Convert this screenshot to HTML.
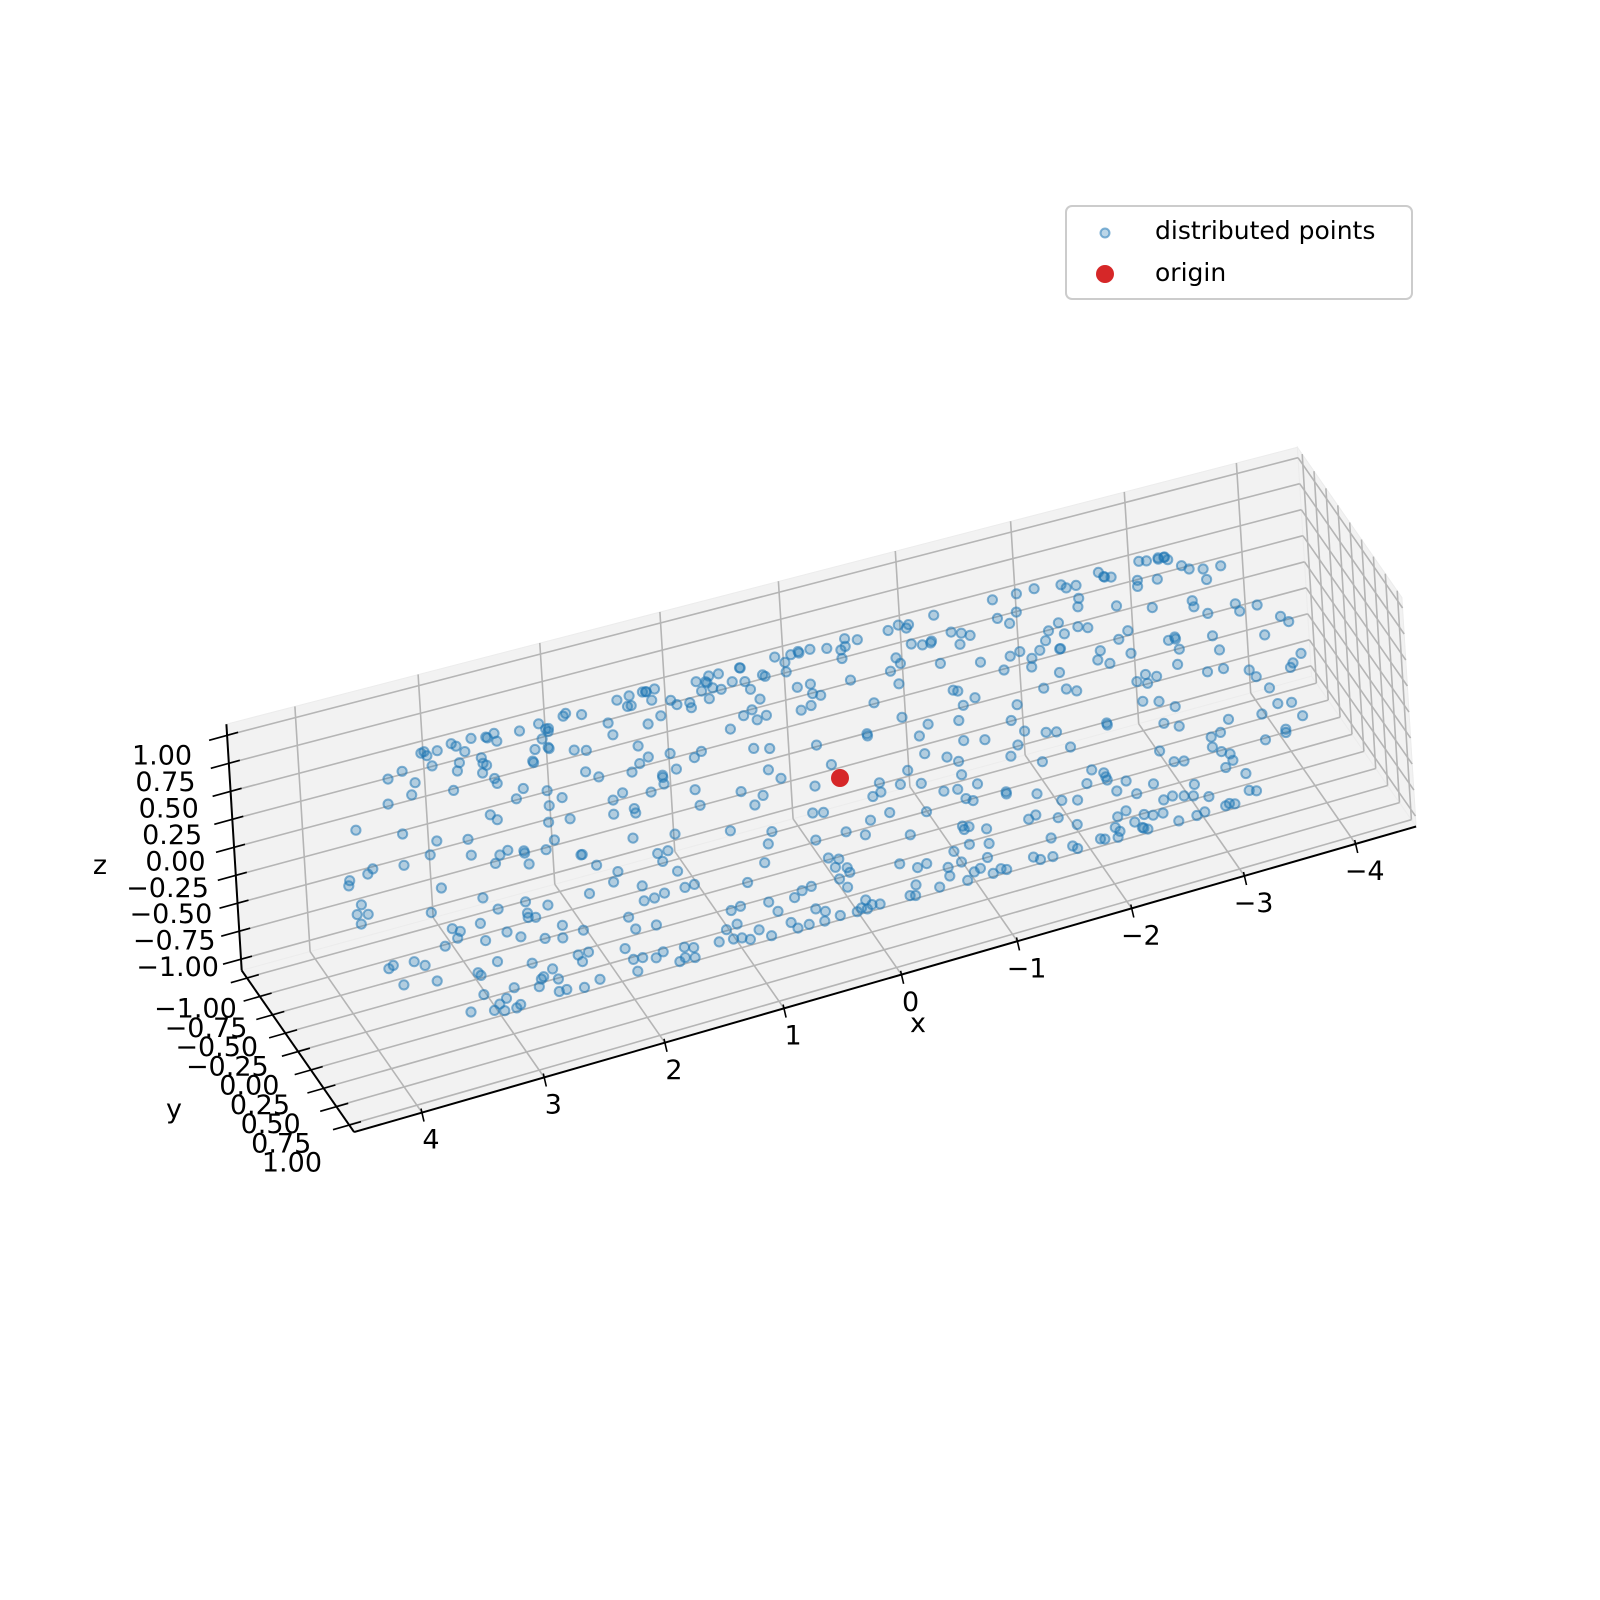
<!DOCTYPE html>
<html><head><meta charset="utf-8">
<style>
html,body{margin:0;padding:0;background:#fff;}
svg{display:block;font-family:"DejaVu Sans","Liberation Sans",sans-serif;}
</style></head>
<body>
<svg id="chart" width="1600" height="1600" viewBox="0 0 1600 1600" xmlns="http://www.w3.org/2000/svg">
<rect width="1600" height="1600" fill="#fff"/>
<g id="panes"></g>
<g id="grid"></g>
<g id="axes"></g>
<g id="pts"></g>
<g id="orig"></g>
<text x="918" y="1032" font-size="27" text-anchor="middle">x</text>
<text x="174" y="1118" font-size="27" text-anchor="middle">y</text>
<text x="100" y="874" font-size="27" text-anchor="middle">z</text>
<g>
  <rect x="1066" y="206" width="346" height="93" rx="6" fill="#fff" fill-opacity="0.8" stroke="#cccccc" stroke-width="2"/>
  <circle cx="1105" cy="233" r="4.5" fill="rgba(31,119,180,0.3)" stroke="rgba(31,119,180,0.55)" stroke-width="2"/>
  <text x="1155" y="239" font-size="25">distributed points</text>
  <circle cx="1105" cy="274" r="9" fill="#d62728"/>
  <text x="1155" y="281" font-size="25">origin</text>
</g>
</svg>
<script>
// ---- data ----
const xTicks = [-4,-3,-2,-1,0,1,2,3,4];
const yTicks = [-1,-0.75,-0.5,-0.25,0,0.25,0.5,0.75,1];
const zTicks = [-1,-0.75,-0.5,-0.25,0,0.25,0.5,0.75,1];
const yTickLabels = ["\u22121.00","\u22120.75","\u22120.50","\u22120.25","0.00","0.25","0.50","0.75","1.00"];
const zTickLabels = ["\u22121.00","\u22120.75","\u22120.50","\u22120.25","0.00","0.25","0.50","0.75","1.00"];
const xTickLabels = ["\u22124","\u22123","\u22122","\u22121","0","1","2","3","4"];
const capsuleRadius = 1;
const capCenter = 3.0;
// body x positions, given in units where the cylinder half-length is 3.5
const bodyXUnit = 3.5;
const bodyX = [-3.4,2.1,0.7,-1.8,3.2,-0.3,1.5,-2.6,2.9,-1.1,0.2,3.4,-3.0,1.9,-0.8,2.5,-2.2,0.9,-3.3,1.2,
-0.5,2.8,-1.5,3.1,-2.9,0.4,1.7,-0.1,-2.4,2.3,-3.2,0.6,3.3,-1.3,1.0,-2.0,2.6,-0.7,0.1,-3.5,
3.0,-1.9,1.4,-2.7,2.0,-0.4,0.8,-3.1,2.7,-1.0,3.5,-2.3,1.6,-0.9,0.3,-1.6,2.4,-3.4,1.1,-2.5,
0.5,3.2,-0.2,-2.8,1.8,-1.4,2.2,-3.0,0.0,3.4,-1.2,1.3,-2.1,2.9,-0.6,-3.3,1.5,0.9,-1.7,3.0,
-2.6,2.1,-0.3,1.0,-3.2,2.5,-1.0,0.6,3.3,-2.2,1.9,-0.8,-1.5,2.8,-3.5,0.2,1.6,-2.9,3.1,-0.5,
2.3,-1.8,0.4,-2.4,3.5,-1.1,1.2,-3.1,2.6,-0.1,0.7,-2.0,3.2,-1.3,1.7,-2.7,0.0,2.0,-3.4,1.4,
-0.7,2.9,-1.6,0.3,-2.3,3.4,-1.9,1.1,-3.0,2.4,-0.4,0.8,-2.5,3.1,-1.2,1.8,-3.3,0.5,2.7,-0.9,
-2.1,1.3,3.0,-1.4,0.1,-2.8,2.2,-0.6,1.5,-3.5,3.3,-1.7,0.9,-2.6,2.0,-0.2,-1.0,2.5,-3.2,1.0,
0.6,-2.2,3.4,-1.5,1.9,-0.3,-2.9,2.8,-1.1,0.4,-3.1,1.6,-0.8,3.2,-2.4,1.2,-1.8,2.6,-0.5,0.0,
-3.4,2.3,-2.0,1.7,-0.9,3.5,-2.7,0.7,-1.3,2.1,-3.0,1.4,-0.1,2.9,-2.3,0.3,-1.6,3.0,-0.7,1.1,
1.3,-2.7,0.2,3.3,-1.6,2.4,-0.4,-3.1,1.9,0.6,-2.0,2.8,-0.9,3.5,-2.4,1.1,-0.1,2.2,-3.3,0.8,
-1.3,2.6,-2.9,0.3,1.6,-0.6,3.0,-1.9,2.0,-3.5,0.5,-2.2,1.4,3.2,-0.8,-2.6,2.9,-1.0,0.1,-3.0,
1.7,-0.2,2.5,-1.7,3.4,-2.8,0.9,-1.2,2.1,-3.2,0.4,1.5,-2.5,3.1,-0.5,2.7,-1.4,-3.4,1.0,-0.3,
2.3,-2.1,0.7,3.0,-1.8,1.2,-2.9,2.6,-0.7,0.0,-3.1,1.8,-1.1,3.3,-2.3,0.6,2.0,-0.4,-2.7,1.4,
3.4,-1.5,0.3,-3.3,2.4,-0.9,1.1,-2.0,2.9,-1.2,0.8,-3.4,1.7,-0.1,3.1,-2.6,0.5,2.2,-1.7,-0.6,
1.9,-2.4,3.5,-1.0,0.2,-3.0,2.7,-0.8,1.3,-2.2,3.0,-1.4,0.4,-2.8,1.6,-0.2,2.5,-3.2,0.9,-1.9,
2.1,-0.5,3.2,-2.5,1.0,-1.6,0.0,2.8,-3.5,1.5,-0.7,2.3,-2.1,0.7,3.4,-1.3,1.2,-2.9,2.6,-0.3,
-3.3,0.9,2.4,-1.2,3.1,-0.4,1.8,-2.5,0.3,3.4,-1.9,2.7,-0.8,-3.0,1.4,-2.2,0.6,3.2,-1.5,2.0,
-0.2,-2.8,1.1,3.5,-1.1,0.4,-3.4,2.6,-0.6,1.7,-2.0,3.0,-1.6,0.1,2.3,-2.9,1.0,-0.9,3.3,-2.4,
0.8,-1.3,2.9,-3.1,1.5,-0.3,2.1,-2.6,0.5,3.2,-1.8,1.2,-0.5,-3.5,2.5,-1.0,0.2,-2.3,3.4,-0.7,
1.9,-2.7,0.7,-1.4,3.0,-3.2,1.3,-0.1,2.2,-2.1,0.0,2.8,-1.7,-0.8,1.6,-3.0,3.5,-1.2,0.9,-2.5,
-0.4,2.4,-3.3,1.1,-1.9,3.1,-0.6,0.3,-2.8,2.0,-1.5,3.3,-3.4,0.6,-2.2,1.8,-0.2,2.6,-1.1,0.4];
const bodyAngle = [12,145,288,67,201,330,95,250,18,172,311,43,226,119,270,355,82,190,303,36,
158,241,7,322,110,265,49,183,296,135,58,212,345,92,161,277,24,203,320,71,
248,130,3,187,285,56,227,340,101,175,262,30,150,312,79,236,15,198,341,115,
268,41,170,294,60,221,9,133,257,88,319,196,47,279,142,6,232,102,351,165,
290,27,211,77,148,335,54,245,120,184,303,14,259,96,213,329,63,178,281,38,
140,306,85,192,22,267,155,348,70,230,118,315,1,205,90,275,138,33,244,168,
299,51,216,127,357,76,183,265,20,151,308,99,223,44,287,160,11,237,113,326,
68,197,274,31,147,251,86,338,124,209,18,292,58,176,235,105,347,81,260,141,
4,219,297,65,189,316,109,252,37,163,283,122,25,208,343,93,166,271,46,229,
130,354,74,199,286,15,244,157,311,53,180,90,262,35,126,300,207,2,271,108,
200,35,118,276,160,8,245,92,330,183,57,299,140,17,222,101,350,64,190,313,
129,266,44,206,338,87,171,24,253,115,307,75,238,152,0,284,196,61,122,342,
219,28,165,302,94,247,136,11,281,53,195,327,108,233,72,145,355,40,264,178,
8,292,119,214,52,349,160,83,238,27,193,311,144,66,255,99,333,13,206,287,
135,48,264,172,319,91,23,228,150,305,74,187,42,259,117,336,2,220,96,174,
281,58,142,337,211,29,104,251,319,165,82,236,14,296,127,201,48,272,154,358,
67,239,112,185,303,21,271,89,158,340,202,46,123,315,79,256,187,4,292,143,
317,73,189,12,244,128,296,55,171,340,97,218,31,263,150,6,329,114,243,69,
182,302,39,157,276,98,211,345,20,132,259,83,193,311,48,166,286,122,237,1,
137,254,61,305,179,33,226,108,351,70,199,290,147,17,266,92,319,183,42,224,
105,333,14,164,293,59,246,136,27,213,316,88,170,350,121,3,238,161,79,301,
26,196,271,110,343,52,229,154,284,9,178,257,118,37,322,201,66,248,139,281];
const leftCapPolar = [10,35,62,80,25,50,71,88,15,44,58,77,30,66,85,20,40,55,74,89,5,48,68,82,28,60,38,79,52,86,
70,84,76,90,65,81,73,87,69,83,78,90,72,86,64,80,75,88,67,84];
const leftCapAz = [20,140,250,330,75,200,300,45,160,280,10,115,230,350,95,185,265,55,150,310,240,25,170,90,320,60,215,130,5,275,
8,44,80,112,146,172,204,236,262,296,324,352,28,62,98,128,190,218,252,308];
const rightCapPolar = [12,42,65,83,22,53,70,87,18,36,61,78,32,57,84,26,47,68,80,88,8,45,63,75,30,55,40,81,50,85,
72,86,77,89,66,82,74,88,70,84,79,90,71,85,63,81,76,87,68,83];
const rightCapAz = [35,170,260,345,80,215,310,55,125,285,15,140,240,355,100,190,270,65,160,320,245,30,175,95,325,70,220,135,10,280,
14,48,86,118,150,178,208,232,266,300,328,356,32,66,102,134,196,222,256,312];
const originPoint = [0,0,0];

// ---- projection ----
const XMIN=-4.55, XMAX=4.55, YMIN=-1.1, YMAX=1.1, ZMIN=-1.1, ZMAX=1.1;
const O=[840,778], EX=[-117.2,32.0], EY=[49.3,70.9], EZ=[-6.7,-108];
function P(x,y,z){
  const g = x*(1+0.0068*x), f = 1+0.008*x;
  return [O[0]+g*EX[0]+f*(y*EY[0]+z*EZ[0]), O[1]+g*EX[1]+f*(y*EY[1]+z*EZ[1])];
}
const NS="http://www.w3.org/2000/svg";
function mk(tag,attrs,parent){const e=document.createElementNS(NS,tag);for(const k in attrs)e.setAttribute(k,attrs[k]);parent.appendChild(e);return e;}
function line(a,b,col,w,parent){return mk('line',{x1:a[0].toFixed(1),y1:a[1].toFixed(1),x2:b[0].toFixed(1),y2:b[1].toFixed(1),stroke:col,'stroke-width':w},parent);}
function poly(pts,parent){return mk('polygon',{points:pts.map(p=>p[0].toFixed(1)+','+p[1].toFixed(1)).join(' '),fill:'#f2f2f2',stroke:'#ececec','stroke-width':1},parent);}

const panes=document.getElementById('panes'), grid=document.getElementById('grid'), axes=document.getElementById('axes');
let e;
e=poly([P(XMAX,YMIN,ZMIN),P(XMIN,YMIN,ZMIN),P(XMIN,YMIN,ZMAX),P(XMAX,YMIN,ZMAX)],panes);


e=poly([P(XMAX,YMIN,ZMIN),P(XMIN,YMIN,ZMIN),P(XMIN,YMAX,ZMIN),P(XMAX,YMAX,ZMIN)],panes);


e=poly([P(XMIN,YMIN,ZMIN),P(XMIN,YMAX,ZMIN),P(XMIN,YMAX,ZMAX),P(XMIN,YMIN,ZMAX)],panes);



const GC='#b5b5b5', GW=1.6;
xTicks.forEach(x=>{
  e=line(P(x,YMIN,ZMIN),P(x,YMIN,ZMAX),GC,GW,grid);
  
  
  e=line(P(x,YMIN,ZMIN),P(x,YMAX,ZMIN),GC,GW,grid);
  
  
});
yTicks.forEach(y=>{
  e=line(P(XMAX,y,ZMIN),P(XMIN,y,ZMIN),GC,GW,grid);
  
  
  e=line(P(XMIN,y,ZMIN),P(XMIN,y,ZMAX),GC,GW,grid);
  
  
});
zTicks.forEach(z=>{
  e=line(P(XMAX,YMIN,z),P(XMIN,YMIN,z),GC,GW,grid);
  
  
  e=line(P(XMIN,YMIN,z),P(XMIN,YMAX,z),GC,GW,grid);
  
  
});

e=line(P(XMAX,YMAX,ZMIN),P(XMIN,YMAX,ZMIN),'#000',2,axes);


e=line(P(XMAX,YMIN,ZMIN),P(XMAX,YMAX,ZMIN),'#000',2,axes);


e=line(P(XMAX,YMIN,ZMIN),P(XMAX,YMIN,ZMAX),'#000',2,axes);



xTicks.forEach((x,i)=>{
  const a=P(x,YMAX,ZMIN);
  e=line([a[0]-1,a[1]-4],[a[0]+2,a[1]+9],'#000',1.6,axes);
  
  
  const t=mk('text',{x:(a[0]+9).toFixed(1),y:(a[1]+36).toFixed(1),'font-size':27,'text-anchor':'middle'},axes);
  t.textContent=xTickLabels[i];
  
  
});
yTicks.forEach((y,i)=>{
  const a=P(XMAX,y,ZMIN);
  e=line([a[0]-16,a[1]+5],[a[0]+12,a[1]-3],'#000',1.6,axes);
  
  
  const s=(y+1)/2;
  const t=mk('text',{x:(a[0]-10-17*s).toFixed(1),y:(a[1]+40+7*s).toFixed(1),'font-size':27,'text-anchor':'end'},axes);
  t.textContent=yTickLabels[i];
  
  
});
zTicks.forEach((z,i)=>{
  const a=P(XMAX,YMIN,z);
  e=line([a[0]-18,a[1]+5],[a[0]+11,a[1]-3],'#000',1.6,axes);
  
  
  const s=(z+1)/2;
  const t=mk('text',{x:(a[0]-22-13*s).toFixed(1),y:(a[1]+17+12*s).toFixed(1),'font-size':27,'text-anchor':'end'},axes);
  t.textContent=zTickLabels[i];
  
  
});

const pts=document.getElementById('pts');
const D=Math.PI/180;
function dot(x,y,z){
  const p=P(x,y,z);
  const c=mk('circle',{cx:p[0].toFixed(1),cy:p[1].toFixed(1),r:4.6,fill:'rgba(31,119,180,0.3)',stroke:'rgba(31,119,180,0.55)','stroke-width':2},pts);
  
  
}
bodyX.forEach((x,i)=>{
  const a=bodyAngle[i]*D;
  dot(x*capCenter/bodyXUnit,capsuleRadius*Math.cos(a),capsuleRadius*Math.sin(a));
});
leftCapPolar.forEach((pl,i)=>{
  const r=capsuleRadius*Math.sin(pl*D), az=leftCapAz[i]*D;
  dot(capCenter+capsuleRadius*Math.cos(pl*D), r*Math.cos(az), r*Math.sin(az));
});
rightCapPolar.forEach((pl,i)=>{
  const r=capsuleRadius*Math.sin(pl*D), az=rightCapAz[i]*D;
  dot(-capCenter-capsuleRadius*Math.cos(pl*D), r*Math.cos(az), r*Math.sin(az));
});
const op=P(originPoint[0],originPoint[1],originPoint[2]);
const oc=mk('circle',{cx:op[0].toFixed(1),cy:op[1].toFixed(1),r:9,fill:'#d62728'},document.getElementById('orig'));


</script>
</body></html>
